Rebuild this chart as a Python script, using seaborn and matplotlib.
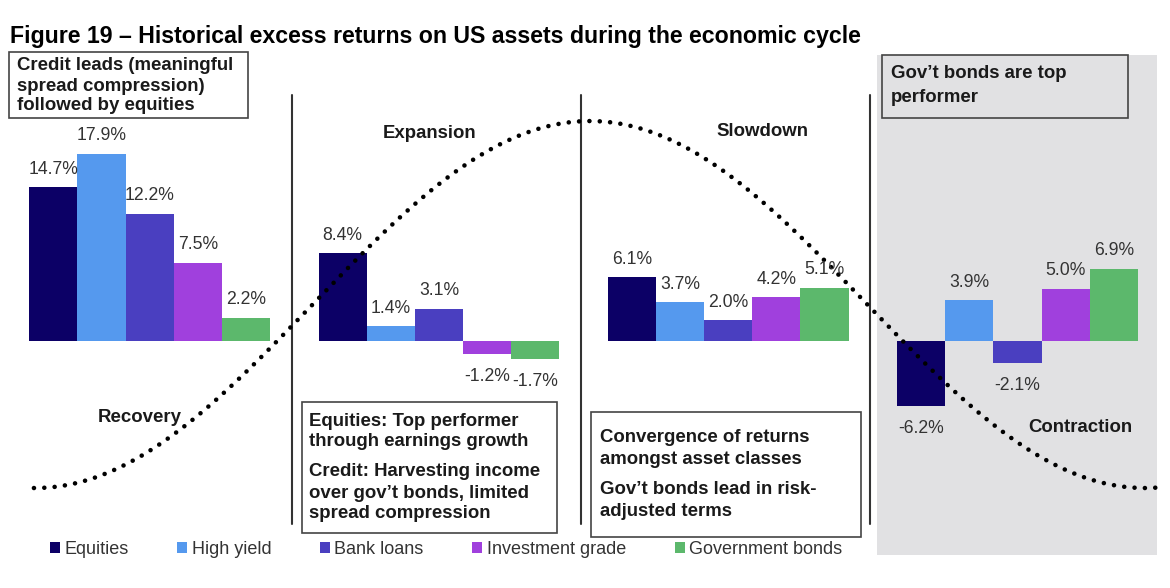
import numpy as np
import pandas as pd
import matplotlib.pyplot as plt
from matplotlib.patches import Rectangle
import seaborn as sns

phases = ['Recovery', 'Expansion', 'Slowdown', 'Contraction']
assets = ['Equities', 'High yield', 'Bank loans', 'Investment grade', 'Government bonds']
equities = [14.7, 8.4, 6.1, -6.2]
high_yield = [17.9, 1.4, 3.7, 3.9]
bank_loans = [12.2, 3.1, 2.0, -2.1]
inv_grade = [7.5, -1.2, 4.2, 5.0]
gov_bonds = [2.2, -1.7, 5.1, 6.9]
colors = ['#0c0066', '#5599ee', '#4a3fc0', '#a040dd', '#5cb86c']

rows = []
for asset, vals in zip(assets, [equities, high_yield, bank_loans, inv_grade, gov_bonds]):
    for ph, v in zip(phases, vals):
        rows.append({'phase': ph, 'asset': asset, 'value': v})
df = pd.DataFrame(rows)

sns.set_style('white')
plt.rcParams['font.family'] = ['Liberation Sans', 'DejaVu Sans']

W, H = 1170, 588
fig = plt.figure(figsize=(W / 100, H / 100), dpi=100)
ax = fig.add_axes([0, 0, 1, 1])

def fx(px):
    return px / W

def fy(py):
    return 1 - py / H

# shaded contraction panel
ax.add_patch(Rectangle((fx(877), fy(555)), fx(1157) - fx(877), fy(55) - fy(555),
                       transform=ax.transAxes, facecolor='#e1e1e3', edgecolor='none', zorder=0))

sns.barplot(data=df, x='phase', y='value', hue='asset', order=phases, hue_order=assets,
            palette=colors, saturation=1, width=0.832, gap=0, linewidth=0, ax=ax, zorder=2)

handles, labels = ax.get_legend_handles_labels()
ax.get_legend().remove()

ax.set_xlim(-0.5173, 3.527)
ax.set_ylim(-(H - 341) / 10.45, 341 / 10.45)
ax.axis('off')

# value labels
for cont in ax.containers:
    for bar in cont:
        v = bar.get_height()
        xc = bar.get_x() + bar.get_width() / 2
        off = 13 if v >= 0 else -16.5
        ax.annotate(f'{v:.1f}%', (xc, v), xytext=(0, off), textcoords='offset points',
                    ha='center', va='center', fontsize=12.7, color='#333333', zorder=5)

# economic cycle curve
trough, half = -0.396, 1.918
mid, amp = 3.49, 17.56
xs = np.linspace(-0.40, 3.48, 500)
ys = mid - amp * np.cos(np.pi * (xs - trough) / half)
ax.plot(xs, ys, color='black', lw=3.3, linestyle=(0, (0.01, 2.25)),
        dash_capstyle='round', zorder=4)

# separators
for px in [292, 581, 870]:
    ax.plot([fx(px), fx(px)], [fy(95), fy(524)], transform=ax.transAxes,
            color='#333333', lw=1.5, zorder=1)

# text boxes
def box(x0, y0, x1, y1, face='white'):
    ax.add_patch(Rectangle((fx(x0), fy(y1)), fx(x1) - fx(x0), fy(y0) - fy(y1),
                           transform=ax.transAxes, facecolor=face, edgecolor='#444444',
                           lw=1.2, zorder=3))

def lines(x, ys_px, texts):
    for y, t in zip(ys_px, texts):
        ax.text(fx(x), fy(y), t, transform=ax.transAxes, ha='left', va='center',
                fontsize=13.4, fontweight='bold', color='#1a1a1a', zorder=6)

box(9, 52, 248, 118)
lines(17, [65, 86, 106], ['Credit leads (meaningful', 'spread compression)', 'followed by equities'])

box(302, 402, 557, 533)
lines(309, [421, 441, 471, 493, 514],
      ['Equities: Top performer', 'through earnings growth', 'Credit: Harvesting income',
       'over gov\u2019t bonds, limited', 'spread compression'])

box(591, 412, 861, 537)
lines(600, [438, 460, 490, 511],
      ['Convergence of returns', 'amongst asset classes', 'Gov\u2019t bonds lead in risk-',
       'adjusted terms'])

box(882, 55, 1128, 118, face='#e1e1e3')
lines(891, [74, 97], ['Gov\u2019t bonds are top', 'performer'])

for name, (x, y) in zip(phases, [(140, 418), (430, 134), (762, 131), (1080, 428)]):
    ax.text(fx(x), fy(y), name, transform=ax.transAxes, ha='center', va='center',
            fontsize=13.4, fontweight='bold', color='#1a1a1a', zorder=6)

fig.text(fx(10), fy(37), 'Figure 19 \u2013 Historical excess returns on US assets during the economic cycle',
         ha='left', va='center', fontsize=16.7, fontweight='bold', color='black')

fig.legend(handles, labels, loc='center', bbox_to_anchor=(fx(446), fy(549)), ncol=5,
           frameon=False, fontsize=13, handlelength=0.55, handleheight=0.55,
           handletextpad=0.25, columnspacing=2.7, labelcolor='#333333')

fig.savefig('out.png', dpi=100)
